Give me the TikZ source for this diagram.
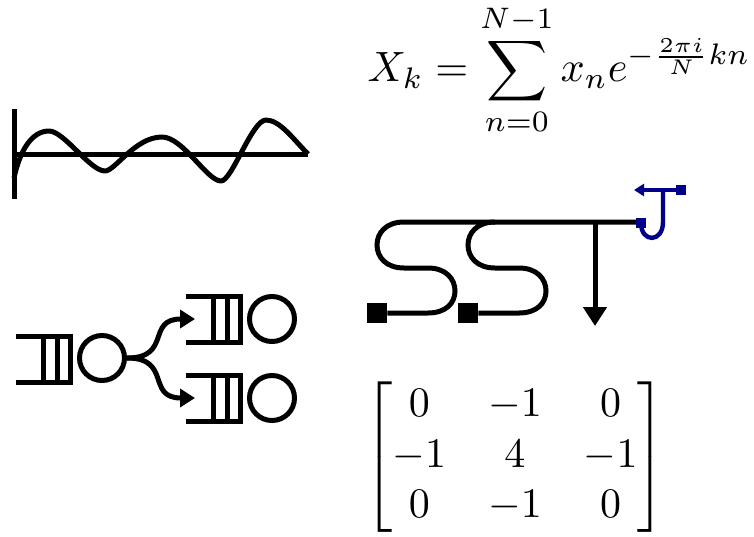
\documentclass[tikz,border=0pt]{standalone}
\usepackage{amsmath}
\usetikzlibrary{arrows.meta}
\tikzset{
  thick line/.style={line width=2.5pt},
  srv/.style={circle,draw,line width=2.5pt,minimum size=22.5pt,inner sep=0pt},
  pad/.style={fill,rectangle,minimum size=10pt,inner sep=0pt},
  pad small/.style={fill=navy,rectangle,minimum size=5pt,inner sep=0pt},
  big tip/.style={-{Triangle[length=9.5pt,width=11.5pt]}},
  mid tip/.style={-{Triangle[length=7.5pt,width=9pt]}},
  small tip/.style={-{Triangle[length=5pt,width=6pt]}},
}
\definecolor{navy}{RGB}{0,0,139}
\begin{document}
\begin{tikzpicture}[x=0.5pt,y=-0.5pt]%
\useasboundingbox (0,0) rectangle (754,536);
\draw[thick line] (14,109) --(14,199);
\draw[thick line] (14,154) --(308,154);
\draw[thick line,line join=round] (14,178)
 ..controls (20,150) and (32,131) ..(49,131)
 ..controls (64,131) and (90,171) ..(105,171)
 ..controls (115,171) and (135,137) ..(162,137)
 ..controls (183,137) and (207,181) ..(221,181)
 ..controls (232,181) and (252,120) ..(266,120)
 ..controls (280,120) and (294,140) ..(308,154);
\node[scale=2.12] (dft) at (559,70) {$\displaystyle X_k=\sum_{n=0}^{N-1}x_ne^{-\frac{2\pi i}{N}kn}$};
\node[scale=2.1] (mat) at (515,457) {$\begin{bmatrix}0&-1&0\\-1&4&-1\\0&-1&0\end{bmatrix}$};
\draw[thick line] (16,336) --(70,336) --(70,382) --(16,382);
\draw[thick line] (43,336) --(43,382);
\draw[thick line] (57,336) --(57,382);
\node[srv] (s1) at (102,358) {};
\draw[thick line] (186,296) --(240,296) --(240,342) --(186,342);
\draw[thick line] (213,296) --(213,342);
\draw[thick line] (227,296) --(227,342);
\node[srv] (s2) at (272,319) {};
\draw[thick line] (186,375) --(240,375) --(240,421) --(186,421);
\draw[thick line] (213,375) --(213,421);
\draw[thick line] (227,375) --(227,421);
\node[srv] (s3) at (272,398) {};
\coordinate (q2) at (195,319);
\coordinate (q3) at (195,398);
\draw[thick line,mid tip] (s1.east) ..controls (172,358) and (146,319) ..(q2);
\draw[thick line,mid tip] (s1.east) ..controls (172,358) and (146,398) ..(q3);
\node[pad] (a) at (377,313) {};
\node[pad] (b) at (468,313) {};
\coordinate (t1) at (640,222);
\coordinate (t2) at (595,222);
\coordinate (t3) at (595,326);
\draw[thick line] (a.east) --(428,313)
 ..controls (446,313) and (455,303) ..(455,291)
 ..controls (455,279) and (446,268) ..(428,268)
 --(404,268)
 ..controls (386,268) and (377,257) ..(377,245)
 ..controls (377,233) and (386,222) ..(404,222)
 --(t1);
\draw[thick line] (b.east) --(519,313)
 ..controls (537,313) and (546,303) ..(546,291)
 ..controls (546,279) and (537,268) ..(519,268)
 --(495,268)
 ..controls (477,268) and (468,257) ..(468,245)
 ..controls (468,233) and (477,222) ..(495,222);
\draw[thick line,big tip] (t2) --(t3);
\node[pad small] (c) at (641,223) {};
\node[pad small] (d) at (681,190) {};
\coordinate (e) at (634,190);
\draw[navy,line width=2.2pt] (c.center) ..controls (641,243) and (663,243) ..(663,222) --(663,190);
\draw[navy,line width=2.2pt,small tip] (d.center) --(e);
\end{tikzpicture}
\end{document}
